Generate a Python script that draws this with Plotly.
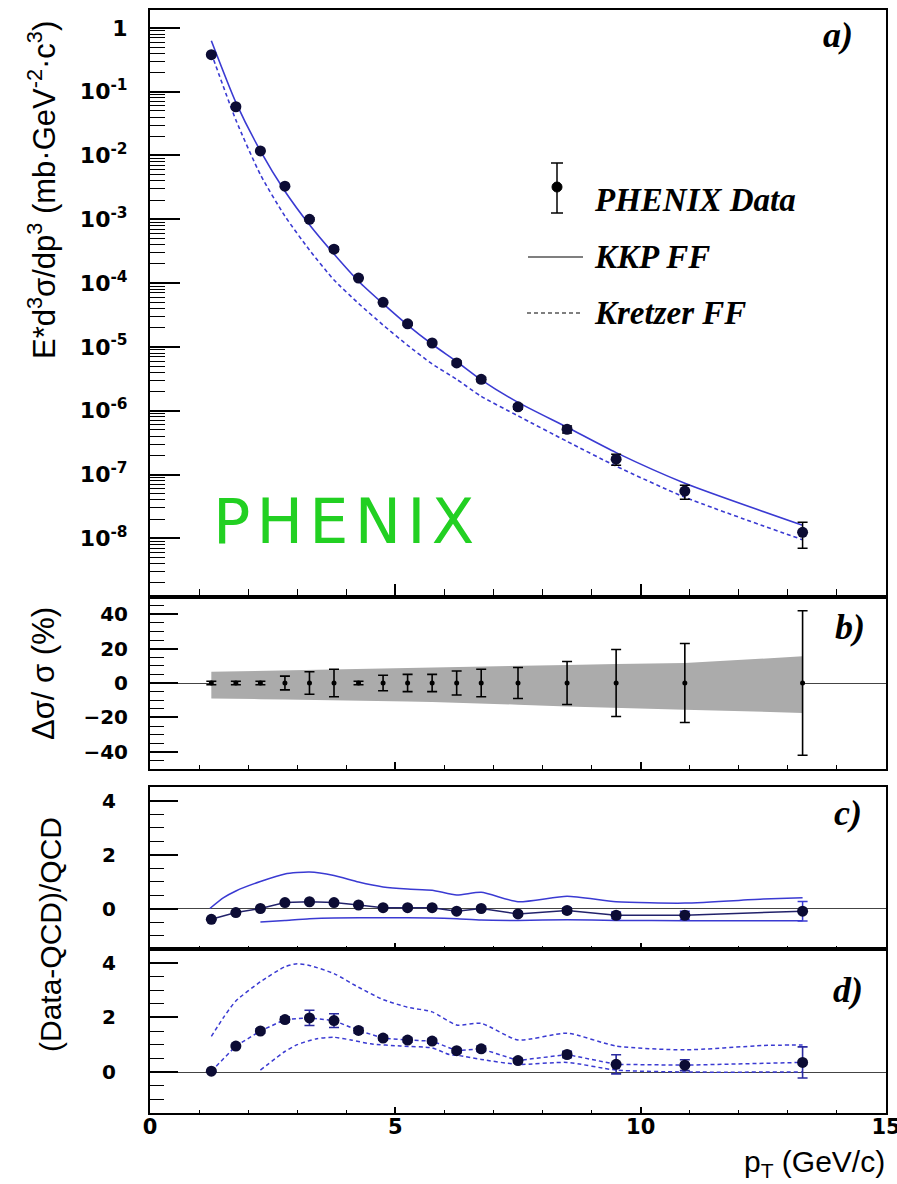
import plotly.graph_objects as go

# ---- data -------------------------------------------------------------
pt = [1.25, 1.75, 2.25, 2.75, 3.25, 3.75, 4.25, 4.75, 5.25, 5.75,
      6.25, 6.75, 7.5, 8.5, 9.5, 10.9, 13.3]

# a) invariant cross section
xsec = [0.38, 0.058, 0.0118, 3.3e-3, 1.0e-3, 3.4e-4, 1.2e-4, 5.0e-5, 2.3e-5,
        1.15e-5, 5.6e-6, 3.1e-6, 1.15e-6, 5.1e-7, 1.74e-7, 5.5e-8, 1.24e-8]
xsec_err_up = [0.004, 6e-4, 1.2e-4, 1.3e-4, 6e-5, 2.7e-5, 1.2e-6, 2.2e-6, 1.1e-6,
               5.7e-7, 3.9e-7, 2.5e-7, 1.0e-7, 6.4e-8, 3.4e-8, 1.3e-8, 5.4e-9]
xsec_err_dn = [0.004, 6e-4, 1.2e-4, 1.3e-4, 6e-5, 2.7e-5, 1.2e-6, 2.2e-6, 1.1e-6,
               5.7e-7, 3.9e-7, 2.5e-7, 1.0e-7, 6.4e-8, 3.4e-8, 1.4e-8, 5.4e-9]
kkp = [0.63, 0.068, 0.0118, 2.75e-3, 8.2e-4, 2.85e-4, 1.07e-4, 4.75e-5, 2.2e-5,
       1.1e-5, 5.9e-6, 3.05e-6, 1.35e-6, 5.5e-7, 2.2e-7, 7.3e-8, 1.6e-8]
kretzer = [0.40, 0.036, 5.0e-3, 1.12e-3, 3.3e-4, 1.12e-4, 4.8e-5, 2.2e-5, 1.06e-5,
           5.4e-6, 3.1e-6, 1.68e-6, 8.3e-7, 3.3e-7, 1.35e-7, 4.4e-8, 9.5e-9]

# b) relative uncertainties (%)
rel_val = [0] * 17
rel_stat = [1, 1, 1, 4, 6.5, 8, 1, 4.5, 5, 5, 7, 8, 9, 12.5, 19.5, 23, 42]
sys_hi = [6.5, 6.8, 7.0, 7.3, 7.5, 7.8, 8.0, 8.3, 8.6, 8.9, 9.2, 9.5, 9.9,
          10.5, 11.0, 11.6, 15.5]
sys_lo = [-9.0, -9.2, -9.4, -9.6, -9.8, -10.0, -10.2, -10.4, -10.7, -11.0,
          -11.3, -11.8, -12.6, -13.6, -14.5, -15.5, -17.4]

# c) (Data-QCD)/QCD, KKP
kkp_ratio = [-0.40, -0.15, 0.0, 0.22, 0.25, 0.22, 0.13, 0.03, 0.03, 0.03,
             -0.10, 0.0, -0.20, -0.07, -0.25, -0.25, -0.10]
kkp_ratio_err = [0.02, 0.02, 0.02, 0.03, 0.05, 0.06, 0.02, 0.04, 0.04, 0.04,
                 0.05, 0.06, 0.07, 0.1, 0.12, 0.15, 0.36]
kkp_up_pt = [1.22, 1.5, 1.75, 2.25, 2.75, 3.25, 3.75, 4.25, 4.75, 5.25, 5.75,
             6.25, 6.75, 7.5, 8.5, 9.5, 10.9, 12.5, 13.3]
kkp_up = [0.0, 0.4, 0.65, 1.0, 1.28, 1.35, 1.22, 0.98, 0.8, 0.72, 0.68,
          0.5, 0.6, 0.25, 0.45, 0.25, 0.2, 0.35, 0.4]
kkp_lo_pt = [2.25, 2.75, 3.25, 3.75, 4.75, 5.75, 6.25, 6.75, 7.5, 8.5, 9.5,
             10.9, 13.3]
kkp_lo = [-0.5, -0.44, -0.38, -0.35, -0.34, -0.35, -0.38, -0.43, -0.44,
          -0.42, -0.44, -0.45, -0.45]

# d) (Data-QCD)/QCD, Kretzer
kre_ratio = [0.03, 0.95, 1.5, 1.92, 1.98, 1.88, 1.52, 1.24, 1.17, 1.13,
             0.78, 0.85, 0.42, 0.64, 0.28, 0.25, 0.35]
kre_ratio_err = [0.03, 0.05, 0.08, 0.1, 0.28, 0.25, 0.1, 0.08, 0.08, 0.08,
                 0.08, 0.1, 0.08, 0.12, 0.35, 0.2, 0.57]
kre_up_pt = [1.25, 1.5, 1.75, 2.25, 2.75, 3.0, 3.25, 3.75, 4.25, 4.75, 5.25,
             5.75, 6.25, 6.75, 7.5, 8.5, 9.5, 10.9, 12.5, 13.3]
kre_up = [1.3, 2.0, 2.6, 3.3, 3.85, 3.96, 3.9, 3.6, 3.1, 2.65, 2.37, 2.2,
          1.72, 1.78, 1.17, 1.42, 0.95, 0.81, 0.97, 0.99]
kre_lo_pt = [2.25, 2.75, 3.0, 3.4, 3.75, 4.1, 4.5, 5.1, 5.75, 6.1, 6.3, 6.75,
             7.5, 8.5, 9.5, 10.9, 13.3]
kre_lo = [0.07, 0.75, 1.0, 1.22, 1.27, 1.17, 1.03, 0.95, 0.88, 0.64, 0.6,
          0.46, 0.28, 0.35, 0.07, 0.0, 0.0]

log_tick_vals = [1, 1e-1, 1e-2, 1e-3, 1e-4, 1e-5, 1e-6, 1e-7, 1e-8]
log_tick_text = ["1"] + ["10<sup>-%d</sup>" % k for k in range(1, 9)]

# ---- style ------------------------------------------------------------
W, H = 897, 1184
BLUE = "#3a3ad2"
DOT = "#0c0c34"
SANS = "Liberation Sans"
WIDE = "DejaVu Sans"
SERIF = "Liberation Serif"


def px(xp):
    return xp / W


def py(yp):
    return 1 - yp / H


X_DOM = [px(150), px(886)]

fig = go.Figure()

# ---- panel a ----------------------------------------------------------
fig.add_trace(go.Scatter(x=pt, y=kkp, mode="lines", xaxis="x", yaxis="y",
                         line=dict(color=BLUE, width=1.6, shape="spline",
                                   smoothing=0.6)))
fig.add_trace(go.Scatter(x=pt, y=kretzer, mode="lines", xaxis="x", yaxis="y",
                         line=dict(color=BLUE, width=1.6, dash="4px,3px",
                                   shape="spline", smoothing=0.6)))
fig.add_trace(go.Scatter(x=pt, y=xsec, mode="markers", xaxis="x", yaxis="y",
                         marker=dict(color=DOT, size=11),
                         error_y=dict(type="data", array=xsec_err_up,
                                      arrayminus=xsec_err_dn, color="black",
                                      thickness=1.5, width=5)))

# ---- panel b ----------------------------------------------------------
fig.add_trace(go.Scatter(x=pt + pt[::-1], y=sys_hi + sys_lo[::-1],
                         mode="lines", fill="toself", xaxis="x2", yaxis="y2",
                         fillcolor="#ababab", line=dict(width=0)))
fig.add_trace(go.Scatter(x=pt, y=rel_val, mode="markers", xaxis="x2",
                         yaxis="y2", marker=dict(color="black", size=5),
                         error_y=dict(type="data", array=rel_stat,
                                      color="black", thickness=1.6, width=5)))

# ---- panel c ----------------------------------------------------------
fig.add_trace(go.Scatter(x=kkp_up_pt, y=kkp_up, mode="lines", xaxis="x3",
                         yaxis="y3", line=dict(color=BLUE, width=1.5,
                                               shape="spline", smoothing=0.6)))
fig.add_trace(go.Scatter(x=kkp_lo_pt, y=kkp_lo, mode="lines", xaxis="x3",
                         yaxis="y3", line=dict(color=BLUE, width=1.5,
                                               shape="spline", smoothing=0.6)))
fig.add_trace(go.Scatter(x=pt, y=kkp_ratio, mode="lines+markers", xaxis="x3",
                         yaxis="y3", line=dict(color="#22226a", width=1.5),
                         marker=dict(color=DOT, size=11),
                         error_y=dict(type="data", array=kkp_ratio_err,
                                      color=BLUE, thickness=1.5, width=5)))

# ---- panel d ----------------------------------------------------------
fig.add_trace(go.Scatter(x=kre_up_pt, y=kre_up, mode="lines", xaxis="x4",
                         yaxis="y4", line=dict(color=BLUE, width=1.5,
                                               dash="4px,3px", shape="spline",
                                               smoothing=0.6)))
fig.add_trace(go.Scatter(x=kre_lo_pt, y=kre_lo, mode="lines", xaxis="x4",
                         yaxis="y4", line=dict(color=BLUE, width=1.5,
                                               dash="4px,3px", shape="spline",
                                               smoothing=0.6)))
fig.add_trace(go.Scatter(x=pt, y=kre_ratio, mode="lines+markers", xaxis="x4",
                         yaxis="y4", line=dict(color=BLUE, width=1.5,
                                               dash="4px,3px"),
                         marker=dict(color=DOT, size=11),
                         error_y=dict(type="data", array=kre_ratio_err,
                                      color="#2a2aa0", thickness=1.6, width=5)))


# ---- axes -------------------------------------------------------------
def x_axis(anchor, major_len, minor_len, labels):
    return dict(domain=X_DOM, anchor=anchor, range=[0, 15], tickmode="array",
                tickvals=[0, 5, 10, 15], automargin=False,
                showline=True, mirror=True, linecolor="black", linewidth=2,
                ticks="inside", ticklen=major_len, tickwidth=1.6,
                tickcolor="black", showgrid=False, zeroline=False,
                showticklabels=labels, ticklabeloverflow="allow",
                ticklabelstandoff=-6,
                tickfont=dict(family=WIDE, size=21, color="black",
                              weight="bold"),
                minor=dict(ticks="inside", ticklen=minor_len,
                           tickmode="array", tickvals=list(range(1, 15)),
                           tickcolor="black", tickwidth=1.2, showgrid=False))


def y_lin(anchor, dom, rng, dtick, minor_dtick, standoff):
    return dict(domain=dom, anchor=anchor, range=rng, dtick=dtick,
                automargin=False,
                showline=True, mirror=True, linecolor="black", linewidth=2,
                ticks="inside", ticklen=28, tickwidth=1.6, tickcolor="black",
                showgrid=False, zeroline=True, zerolinecolor="#444444",
                zerolinewidth=1.4, ticklabelstandoff=standoff,
                tickfont=dict(family=WIDE, size=20, color="black",
                              weight="bold"),
                minor=dict(ticks="inside", ticklen=14, dtick=minor_dtick,
                           tickcolor="black", tickwidth=1.4, showgrid=False))


minor_log = [m * 10.0 ** e for e in range(-9, 1) for m in range(2, 10)]

fig.update_layout(
    width=W, height=H,
    margin=dict(l=0, r=0, t=0, b=0, autoexpand=False),
    paper_bgcolor="white", plot_bgcolor="white",
    showlegend=False,
    xaxis=x_axis("y", 13, 8, False),
    yaxis=dict(domain=[py(597), py(10)], anchor="x", type="log",
               range=[-8.92, 0.28], tickmode="array", automargin=False,
               tickvals=log_tick_vals, ticktext=log_tick_text,
               showline=True, mirror=True, linecolor="black", linewidth=2,
               ticks="inside", ticklen=30, tickwidth=1.6, tickcolor="black",
               showgrid=False, zeroline=False, ticklabelstandoff=16,
               tickfont=dict(family=WIDE, size=22, color="black",
                             weight="bold"),
               minor=dict(tickmode="array", tickvals=minor_log,
                          ticks="inside", ticklen=15, tickcolor="black",
                          tickwidth=1.4, showgrid=False)),
    xaxis2=x_axis("y2", 7, 4, False),
    yaxis2=y_lin("x2", [py(769), py(597)], [-50, 50], 20, 5, 16),
    xaxis3=x_axis("y3", 6, 3, False),
    yaxis3=y_lin("x3", [py(949), py(787)], [-1.5, 4.5], 2, 0.5, 28),
    xaxis4=x_axis("y4", 6, 3, True),
    yaxis4=y_lin("x4", [py(1113), py(949)], [-1.5, 4.5], 2, 0.5, 28),
)

# ---- axis titles and labels --------------------------------------------
ann = []
ann.append(dict(text="E*d<sup>3</sup>σ/dp<sup>3</sup> (mb·GeV<sup>-2</sup>·c<sup>3</sup>)",
                x=px(42), y=py(190), textangle=-90,
                font=dict(family=SANS, size=31, color="black")))
ann.append(dict(text="Δσ/ σ (%)", x=px(43), y=py(674), textangle=-90,
                font=dict(family=SANS, size=31, color="black")))
ann.append(dict(text="(Data-QCD)/QCD", x=px(50), y=py(935), textangle=-90,
                font=dict(family=SANS, size=30, color="black")))
ann.append(dict(text="p<sub>T</sub> (GeV/c)", x=px(887), y=py(1163),
                xanchor="right",
                font=dict(family=SANS, size=30, color="black")))
for lab, cx, cy in [("a)", 838, 35), ("b)", 850, 627), ("c)", 848, 813),
                    ("d)", 848, 990)]:
    ann.append(dict(text="<b><i>%s</i></b>" % lab, x=px(cx), y=py(cy),
                    font=dict(family=SERIF, size=36, color="black")))
ann.append(dict(text="\u200a".join("PHENIX"), x=px(343), y=py(521),
                font=dict(family=WIDE, size=62, color="#22d022")))

# legend
for txt, ly in [("PHENIX Data", 200), ("KKP FF", 257), ("Kretzer FF", 313)]:
    ann.append(dict(text="<b><i>%s</i></b>" % txt, x=px(592), y=py(ly),
                    xanchor="left",
                    font=dict(family=SERIF, size=33, color="black")))
for a in ann:
    a.setdefault("xref", "paper")
    a.setdefault("yref", "paper")
    a.setdefault("showarrow", False)
    a.setdefault("xanchor", "center")
    a.setdefault("yanchor", "middle")
fig.update_layout(annotations=ann)

shapes = [
    dict(type="line", x0=px(557), x1=px(557), y0=py(163), y1=py(213),
         line=dict(color="black", width=1.5)),
    dict(type="line", x0=px(551), x1=px(563), y0=py(163), y1=py(163),
         line=dict(color="black", width=1.5)),
    dict(type="line", x0=px(551), x1=px(563), y0=py(213), y1=py(213),
         line=dict(color="black", width=1.5)),
    dict(type="circle", x0=px(552), x1=px(562), y0=py(192), y1=py(182),
         fillcolor="black", line=dict(color="black", width=1)),
    dict(type="line", x0=px(528), x1=px(583), y0=py(257), y1=py(257),
         line=dict(color="black", width=1.2)),
    dict(type="line", x0=px(527), x1=px(581), y0=py(313), y1=py(313),
         line=dict(color="black", width=1.2, dash="4px,3px")),
]
for s in shapes:
    s["xref"] = "paper"
    s["yref"] = "paper"
fig.update_layout(shapes=shapes)

fig.write_html("out.html")
